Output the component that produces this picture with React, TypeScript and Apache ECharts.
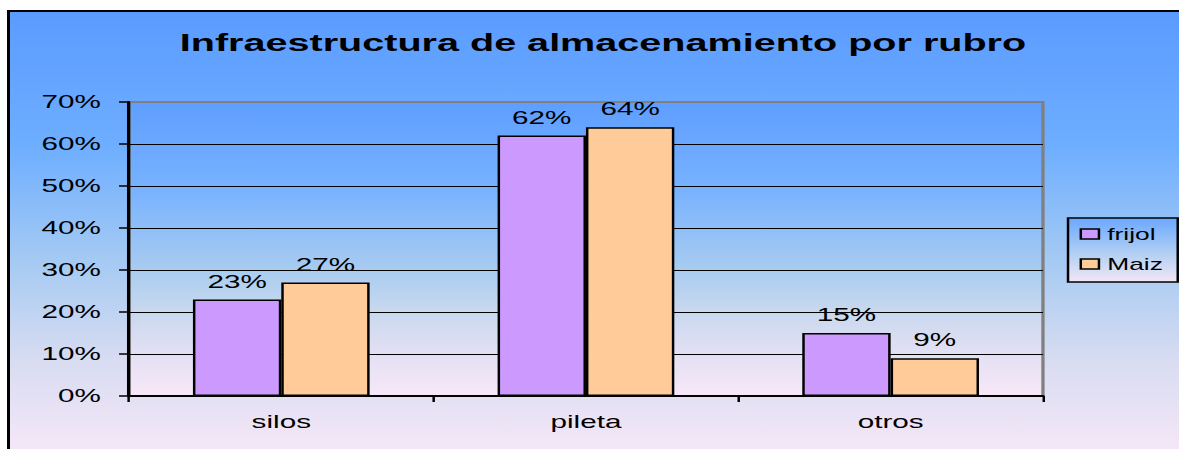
import React, { useEffect, useRef } from "react";
import * as echarts from "echarts";

const categories = ["silos", "pileta", "otros"];
const frijol = [23, 62, 15];
const maiz = [27, 64, 9];
const seriesNames = ["frijol", "Maiz"];
const yTicks = { min: 0, max: 70, interval: 10 };
const titleText = "Infraestructura de almacenamiento por rubro";

const W = 715;
const H = 449;
const SX = 1179 / W;
const FONT = "'Liberation Sans', Arial, sans-serif";

export default function App() {
  const ref = useRef<HTMLDivElement>(null);
  useEffect(() => {
    if (!ref.current) return;
    const prevOverflow = document.documentElement.style.overflow;
    document.documentElement.style.overflow = "hidden";
    const chart = echarts.init(ref.current, undefined, { renderer: "svg", width: W, height: H });
    const plotGrad = new echarts.graphic.LinearGradient(0, 0, 0, 1, [
      { offset: 0, color: "#5E9EFF" },
      { offset: 0.3, color: "#78B2FF" },
      { offset: 0.57, color: "#A8CCF0" },
      { offset: 0.71, color: "#C8D8EE" },
      { offset: 0.86, color: "#E4E0F4" },
      { offset: 1, color: "#F7E8F8" },
    ]);
    const legendGrad = new echarts.graphic.LinearGradient(0, 0, 0, 1, [
      { offset: 0, color: "#6AA8FF" },
      { offset: 0.6, color: "#B8D2F2" },
      { offset: 1, color: "#F4E6F6" },
    ]);
    const labelStyle = { show: true, position: "top" as const, distance: 9, formatter: "{c}%", color: "#000", fontSize: 18, fontFamily: FONT };
    chart.setOption({
      animation: false,
      title: {
        text: titleText,
        left: 104,
        top: 26,
        textStyle: { fontSize: 24, fontWeight: "bold", color: "#000", fontFamily: FONT },
      },
      legend: {
        orient: "vertical",
        left: 647.7,
        top: 218,
        padding: [8, 9, 10, 7],
        itemGap: 14,
        itemWidth: 11,
        itemHeight: 10,
        icon: "rect",
        backgroundColor: legendGrad,
        borderColor: "#000",
        borderWidth: 1.5,
        borderRadius: 0,
        textStyle: { fontSize: 16, color: "#000", fontFamily: FONT },
        itemStyle: { borderColor: "#000", borderWidth: 1.5 },
        data: seriesNames,
      },
      grid: {
        left: 78.2,
        right: 82.5,
        top: 102,
        bottom: 53,
        show: true,
        backgroundColor: plotGrad,
        borderColor: "#808080",
        borderWidth: 2,
      },
      xAxis: {
        type: "category",
        data: categories,
        axisLine: { show: true, lineStyle: { color: "#000", width: 2 } },
        axisTick: { show: true, alignWithLabel: false, length: 6, lineStyle: { color: "#000", width: 1.5 } },
        axisLabel: { color: "#000", fontSize: 18, fontFamily: FONT, margin: 17 },
        splitLine: { show: false },
      },
      yAxis: {
        type: "value",
        min: yTicks.min,
        max: yTicks.max,
        interval: yTicks.interval,
        axisLine: { show: true, lineStyle: { color: "#000", width: 2 } },
        axisTick: { show: true, length: 6, lineStyle: { color: "#000", width: 1.5 } },
        axisLabel: { color: "#000", fontSize: 18, fontFamily: FONT, margin: 17, formatter: "{value}%" },
        splitLine: {
          show: true,
          lineStyle: { color: ["#000", "#000", "#000", "#000", "#000", "#000", "#000", "#808080"], width: 1 },
        },
      },
      series: [
        {
          name: seriesNames[0],
          type: "bar",
          data: frijol,
          barGap: "0%",
          barCategoryGap: "42%",
          itemStyle: { color: "#CC99FF", borderColor: "#000", borderWidth: 1.5 },
          label: labelStyle,
        },
        {
          name: seriesNames[1],
          type: "bar",
          data: maiz,
          barGap: "0%",
          barCategoryGap: "42%",
          itemStyle: { color: "#FFCC99", borderColor: "#000", borderWidth: 1.5 },
          label: labelStyle,
        },
      ],
    });
    return () => {
      chart.dispose();
      document.documentElement.style.overflow = prevOverflow;
    };
  }, []);
  return (
    <div style={{ position: "fixed", left: 0, top: 0, width: 1179, height: H, overflow: "hidden", background: "#fff" }}>
      <div
        style={{
          position: "absolute",
          left: 7,
          top: 10,
          width: 1300,
          height: 500,
          borderTop: "2px solid #000",
          borderLeft: "3px solid #000",
          boxSizing: "border-box",
          background: "linear-gradient(to bottom, #5B9BFF 0%, #6EAEFF 27%, #A5CAF3 50%, #D8DCF1 70%, #F8E8F8 90%, #F8E8F8 100%)",
        }}
      />
      <div
        ref={ref}
        style={{ position: "absolute", left: 0, top: 0, width: W, height: H, transform: `scaleX(${SX})`, transformOrigin: "0 0" }}
      />
    </div>
  );
}
